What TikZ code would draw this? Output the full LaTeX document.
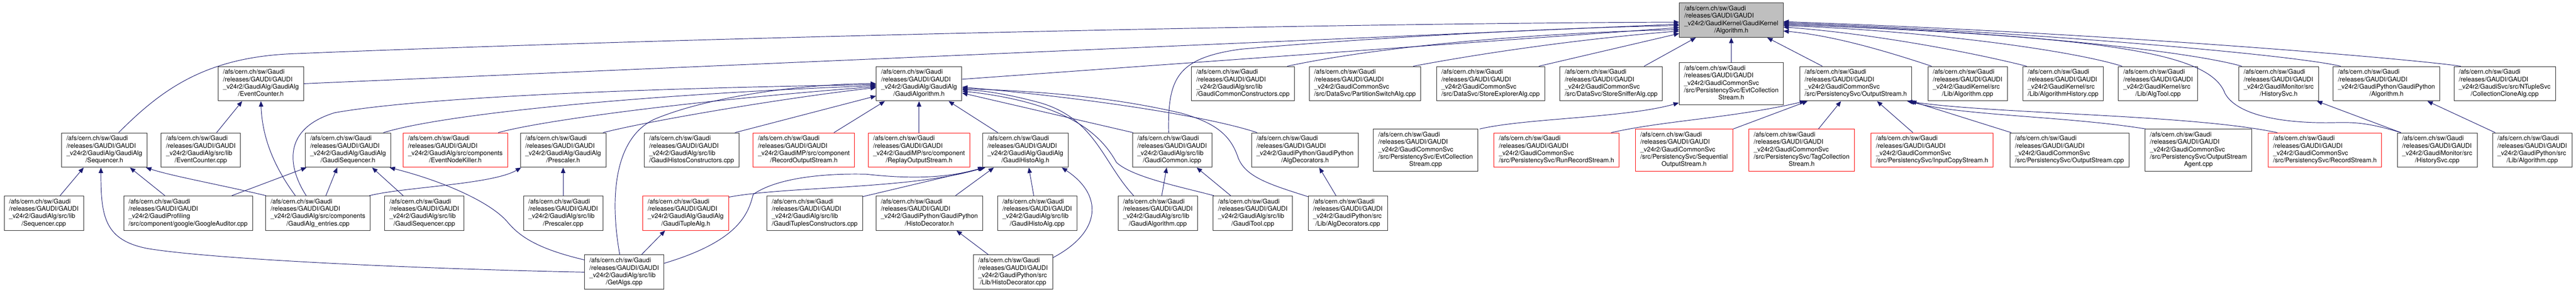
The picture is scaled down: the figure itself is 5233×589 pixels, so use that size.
\documentclass[tikz,border=0pt]{standalone}
\usepackage{fontspec}
\setmainfont{TeX Gyre Heros}
\usetikzlibrary{arrows.meta,calc}

\definecolor{edgeblue}{HTML}{191970}
\definecolor{rootgray}{HTML}{BFBFBF}

% doxygen style label: left aligned lines, last line centred
\newcommand{\gpath}[2]{\begin{tabular}{@{}l@{}}/afs/cern.ch/sw/Gaudi\\/releases/GAUDI/GAUDI\\\_v24r2/#1\\\multicolumn{1}{@{}c@{}}{#2}\end{tabular}}

\tikzset{
  file/.style={draw=black!85, line width=1pt, inner xsep=10pt, inner ysep=5pt,
    font=\fontsize{13}{15}\selectfont},
  trunc/.style={file, draw=red},
  focus/.style={file, fill=rootgray},
  inc/.style={draw=edgeblue, line width=1pt, -{Triangle[length=11pt,width=9pt]}}
}

\begin{document}
\begin{tikzpicture}[x=1pt,y=-1pt]
\useasboundingbox (0,0) rectangle (5233,589);

\node[focus] (root) at (3517,41) {\gpath{GaudiKernel/GaudiKernel}{/Algorithm.h}};

% first level
\node[file] (evch) at (530,170) {\gpath{GaudiAlg/GaudiAlg}{/EventCounter.h}};
\node[file] (galgh) at (1867,170) {\gpath{GaudiAlg/GaudiAlg}{/GaudiAlgorithm.h}};
\node[file] (gccons) at (2525,170) {\gpath{GaudiAlg/src/lib}{/GaudiCommonConstructors.cpp}};
\node[file] (partsw) at (2773,170) {\gpath{GaudiCommonSvc}{/src/DataSvc/PartitionSwitchAlg.cpp}};
\node[file] (storeexp) at (3028,170) {\gpath{GaudiCommonSvc}{/src/DataSvc/StoreExplorerAlg.cpp}};
\node[file] (storesniff) at (3273,170) {\gpath{GaudiCommonSvc}{/src/DataSvc/StoreSnifferAlg.cpp}};
\node[file] (evtcolh) at (3517,170) {\gpath{GaudiCommonSvc\\/src/PersistencySvc/EvtCollection}{Stream.h}};
\node[file] (osh) at (3770,170) {\gpath{GaudiCommonSvc}{/src/PersistencySvc/OutputStream.h}};
\node[file] (kalgcpp) at (3997,170) {\gpath{GaudiKernel/src}{/Lib/Algorithm.cpp}};
\node[file] (alghist) at (4191,170) {\gpath{GaudiKernel/src}{/Lib/AlgorithmHistory.cpp}};
\node[file] (algtool) at (4384,170) {\gpath{GaudiKernel/src}{/Lib/AlgTool.cpp}};
\node[file] (histsvch) at (4629,170) {\gpath{GaudiMonitor/src}{/HistorySvc.h}};
\node[file] (pyalgh) at (4848,170) {\gpath{GaudiPython/GaudiPython}{/Algorithm.h}};
\node[file] (collclone) at (5088,170) {\gpath{GaudiSvc/src/NTupleSvc}{/CollectionCloneAlg.cpp}};

% second level
\node[file] (seqh) at (212,305) {\gpath{GaudiAlg/GaudiAlg}{/Sequencer.h}};
\node[file] (evccpp) at (408,305) {\gpath{GaudiAlg/src/lib}{/EventCounter.cpp}};
\node[file] (gseqh) at (707,305) {\gpath{GaudiAlg/GaudiAlg}{/GaudiSequencer.h}};
\node[trunc] (enk) at (925,305) {\gpath{GaudiAlg/src/components}{/EventNodeKiller.h}};
\node[file] (presch) at (1144,305) {\gpath{GaudiAlg/GaudiAlg}{/Prescaler.h}};
\node[file] (ghcons) at (1405,305) {\gpath{GaudiAlg/src/lib}{/GaudiHistosConstructors.cpp}};
\node[trunc] (recout) at (1633,305) {\gpath{GaudiMP/src/component}{/RecordOutputStream.h}};
\node[trunc] (replay) at (1867,305) {\gpath{GaudiMP/src/component}{/ReplayOutputStream.h}};
\node[file] (ghalgh) at (2083,305) {\gpath{GaudiAlg/GaudiAlg}{/GaudiHistoAlg.h}};
\node[file] (gcicpp) at (2381,305) {\gpath{GaudiAlg/src/lib}{/GaudiCommon.icpp}};
\node[file] (algdech) at (2651,305) {\gpath{GaudiPython/GaudiPython}{/AlgDecorators.h}};
\node[file] (evtcolcpp) at (2896,305) {\gpath{GaudiCommonSvc\\/src/PersistencySvc/EvtCollection}{Stream.cpp}};
\node[trunc] (runrec) at (3162,305) {\gpath{GaudiCommonSvc}{/src/PersistencySvc/RunRecordStream.h}};
\node[trunc] (seqout) at (3421,305) {\gpath{GaudiCommonSvc\\/src/PersistencySvc/Sequential}{OutputStream.h}};
\node[trunc] (tagcol) at (3660,305) {\gpath{GaudiCommonSvc\\/src/PersistencySvc/TagCollection}{Stream.h}};
\node[trunc] (inputcopy) at (3925,305) {\gpath{GaudiCommonSvc}{/src/PersistencySvc/InputCopyStream.h}};
\node[file] (oscpp) at (4204,305) {\gpath{GaudiCommonSvc}{/src/PersistencySvc/OutputStream.cpp}};
\node[file] (osagent) at (4466,305) {\gpath{GaudiCommonSvc\\/src/PersistencySvc/OutputStream}{Agent.cpp}};
\node[trunc] (recstream) at (4723,305) {\gpath{GaudiCommonSvc}{/src/PersistencySvc/RecordStream.h}};
\node[file] (histsvccpp) at (4951,305) {\gpath{GaudiMonitor/src}{/HistorySvc.cpp}};
\node[file] (pyalgcpp) at (5144,305) {\gpath{GaudiPython/src}{/Lib/Algorithm.cpp}};

% third level
\node[file] (seqcpp) at (89,433) {\gpath{GaudiAlg/src/lib}{/Sequencer.cpp}};
\node[file] (google) at (382,433) {\gpath{GaudiProfiling}{/src/component/google/GoogleAuditor.cpp}};
\node[file] (entries) at (646,433) {\gpath{GaudiAlg/src/components}{/GaudiAlg\_entries.cpp}};
\node[file] (gseqcpp) at (862,433) {\gpath{GaudiAlg/src/lib}{/GaudiSequencer.cpp}};
\node[file] (prescpp) at (1144,433) {\gpath{GaudiAlg/src/lib}{/Prescaler.cpp}};
\node[trunc] (gtuph) at (1393,433) {\gpath{GaudiAlg/GaudiAlg}{/GaudiTupleAlg.h}};
\node[file] (gtupcons) at (1655,433) {\gpath{GaudiAlg/src/lib}{/GaudiTuplesConstructors.cpp}};
\node[file] (histodech) at (1888,433) {\gpath{GaudiPython/GaudiPython}{/HistoDecorator.h}};
\node[file] (ghalgcpp) at (2107,433) {\gpath{GaudiAlg/src/lib}{/GaudiHistoAlg.cpp}};
\node[file] (galgcpp) at (2352,433) {\gpath{GaudiAlg/src/lib}{/GaudiAlgorithm.cpp}};
\node[file] (gtool) at (2545,433) {\gpath{GaudiAlg/src/lib}{/GaudiTool.cpp}};
\node[file] (algdeccpp) at (2738,433) {\gpath{GaudiPython/src}{/Lib/AlgDecorators.cpp}};

% fourth level
\node[file] (getalgs) at (1268,553) {\gpath{GaudiAlg/src/lib}{/GetAlgs.cpp}};
\node[file] (histodeccpp) at (2058,553) {\gpath{GaudiPython/src}{/Lib/HistoDecorator.cpp}};

% into Algorithm.h
\draw[inc] ($(seqh.north)+(29,0)$) .. controls (330,180) and (420,115) .. (600,109) .. controls (1300,80) and (2600,48) .. ($(root.west)+(0,4)$);
\draw[inc] (evch.east) -- ($(root.west)+(0,8)$);
\draw[inc] ($(galgh.east)+(0,-9)$) -- ($(root.west)+(0,15)$);
\draw[inc] ($(gcicpp.north)+(-7,0)$) .. controls (2372,160) and (2390,118) .. (2520,100) .. controls (2800,75) and (3200,55) .. ($(root.west)+(0,11)$);
\draw[inc] ($(gccons.north)+(90,0)$) .. controls (2800,95) and (3100,68) .. ($(root.west)+(0,19)$);
\draw[inc] ($(partsw.north)+(98,0)$) .. controls (3000,110) and (3200,80) .. ($(root.west)+(0,22)$);
\draw[inc] ($(storeexp.north)+(98,0)$) -- ($(root.west)+(0,27)$);
\draw[inc] ($(storesniff.north)+(67,0)$) -- ($(root.south)+(-72,0)$);
\draw[inc] (evtcolh) -- (root);
\draw[inc] ($(osh.north)+(-68,0)$) -- ($(root.south)+(73,0)$);
\draw[inc] ($(kalgcpp.north)+(-73,0)$) .. controls (3820,100) and (3720,72) .. ($(root.east)+(0,22)$);
\draw[inc] ($(alghist.north)+(-74,0)$) .. controls (4000,105) and (3800,68) .. ($(root.east)+(0,14)$);
\draw[inc] ($(algtool.north)+(-73,0)$) .. controls (4200,100) and (3900,62) .. ($(root.east)+(0,11)$);
\draw[inc] ($(histsvccpp.north west)+(8,0)$) .. controls (4820,252) and (4790,248) .. (4748,249) .. controls (4640,252) and (4545,235) .. (4520,190) .. controls (4490,110) and (4300,75) .. ($(root.east)+(0,9)$);
\draw[inc] ($(histsvch.north)+(-75,0)$) .. controls (4450,105) and (4100,65) .. ($(root.east)+(0,7)$);
\draw[inc] ($(pyalgh.north)+(-93,0)$) .. controls (4650,110) and (4100,63) .. ($(root.east)+(0,5)$);
\draw[inc] ($(collclone.north)+(-89,0)$) .. controls (4900,120) and (4300,68) .. ($(root.east)+(0,3)$);

% EvtCollectionStream.h, OutputStream.h, HistorySvc.h, Algorithm.h (python)
\draw[inc] ($(evtcolcpp.north)+(110,0)$) .. controls (3100,240) and (3300,240) .. ($(evtcolh.south west)+(0,-4)$);
\draw[inc] ($(runrec.north)+(111,0)$) .. controls (3380,245) and (3520,240) .. ($(osh.south)+(-103,0)$);
\draw[inc] ($(seqout.north)+(100,0)$) -- ($(osh.south)+(-98,0)$);
\draw[inc] ($(tagcol.north)+(34,0)$) -- ($(osh.south)+(-30,0)$);
\draw[inc] ($(inputcopy.north)+(-39,0)$) -- ($(osh.south)+(43,0)$);
\draw[inc] ($(oscpp.north west)+(3,0)$) -- ($(osh.south)+(112,0)$);
\draw[inc] ($(osagent.north west)+(2,0)$) .. controls (4200,236) and (3980,235) .. ($(osh.south)+(108,0)$);
\draw[inc] ($(recstream.north west)+(19,0)$) .. controls (4450,232) and (4050,232) .. ($(osh.south)+(104,0)$);
\draw[inc] ($(histsvccpp.north west)+(8,0)$) -- ($(histsvch.south east)+(-4,0)$);
\draw[inc] ($(pyalgcpp.north)+(-75,0)$) -- ($(pyalgh.south)+(83,0)$);

% EventCounter.h, Sequencer.h
\draw[inc] ($(evccpp.north)+(32,0)$) -- ($(evch.south)+(-38,0)$);
\draw[inc] ($(entries.north)+(-46,0)$) .. controls (565,350) and (533,290) .. (evch.south);
\draw[inc] ($(seqcpp.north)+(33,0)$) -- ($(seqh.south)+(-42,0)$);
\draw[inc] (getalgs.west) .. controls (800,545) and (420,525) .. (300,505) .. controls (212,488) and (205,440) .. ($(seqh.south)+(-7,0)$);
\draw[inc] ($(google.north)+(-47,0)$) -- ($(seqh.south)+(52,0)$);
\draw[inc] ($(entries.north west)+(1,0)$) .. controls (450,376) and (350,358) .. ($(seqh.south east)+(-3,0)$);

% GaudiSequencer.h, Prescaler.h
\draw[inc] ($(google.north)+(89,0)$) -- ($(gseqh.south west)+(3,0)$);
\draw[inc] ($(entries.north)+(16,0)$) -- ($(gseqh.south)+(-22,0)$);
\draw[inc] ($(gseqcpp.north)+(-43,0)$) -- ($(gseqh.south)+(49,0)$);
\draw[inc] ($(getalgs.west)+(0,-25)$) .. controls (1090,505) and (1055,480) .. (1030,450) .. controls (995,410) and (900,368) .. ($(gseqh.south east)+(-3,0)$);
\draw[inc] (prescpp) -- (presch);
\draw[inc] ($(entries.north east)+(-2,0)$) .. controls (820,380) and (1000,375) .. ($(presch.south west)+(2,0)$);

% GaudiAlgorithm.h
\draw[inc] ($(entries.north)+(-24,0)$) .. controls (585,340) and (572,262) .. (680,229) .. controls (900,190) and (1500,176) .. ($(galgh.west)+(0,2)$);
\draw[inc] ($(gseqh.north)+(72,0)$) .. controls (900,232) and (1300,192) .. ($(galgh.west)+(0,4)$);
\draw[inc] ($(enk.north)+(87,0)$) .. controls (1100,245) and (1400,205) .. ($(galgh.west)+(0,6)$);
\draw[inc] ($(presch.north)+(81,0)$) .. controls (1320,245) and (1600,198) .. ($(galgh.west)+(0,8)$);
\draw[inc] ($(getalgs.north)+(-9,0)$) .. controls (1238,400) and (1248,280) .. (1330,242) .. controls (1450,192) and (1650,170) .. (galgh.west);
\draw[inc] ($(ghcons.north)+(88,0)$) -- ($(galgh.west)+(0,25)$);
\draw[inc] ($(recout.north)+(61,0)$) -- ($(galgh.south west)+(18,0)$);
\draw[inc] (replay) -- (galgh);
\draw[inc] ($(ghalgh.north)+(-56,0)$) -- ($(galgh.south)+(60,0)$);
\draw[inc] ($(gcicpp.north west)+(2,0)$) -- ($(galgh.east)+(0,19)$);
\draw[inc] ($(galgcpp.north west)+(32,0)$) .. controls (2240,330) and (2225,240) .. (2110,208) .. controls (2050,192) and (2000,184) .. ($(galgh.east)+(0,12)$);
\draw[inc] ($(gtool.north west)+(2,0)$) .. controls (2400,380) and (2300,360) .. (2268,330) .. controls (2240,280) and (2180,210) .. ($(galgh.east)+(0,15)$);
\draw[inc] ($(algdech.north west)+(12,0)$) .. controls (2450,235) and (2200,198) .. ($(galgh.east)+(0,7)$);
\draw[inc] ($(algdeccpp.north west)+(0,2)$) .. controls (2580,375) and (2530,360) .. (2515,320) .. controls (2500,275) and (2470,250) .. (2400,230) .. controls (2250,195) and (2100,185) .. ($(galgh.east)+(0,10)$);

% GaudiCommon.icpp, AlgDecorators.h
\draw[inc] ($(galgcpp.north)+(8,0)$) -- ($(gcicpp.south)+(-11,0)$);
\draw[inc] ($(gtool.north)+(-45,0)$) -- ($(gcicpp.south)+(50,0)$);
\draw[inc] ($(algdeccpp.north)+(-24,0)$) -- ($(algdech.south)+(29,0)$);

% GaudiHistoAlg.h, HistoDecorator.h, GaudiTupleAlg.h
\draw[inc] ($(getalgs.east)+(0,-18)$) .. controls (1500,490) and (1520,435) .. (1530,395) .. controls (1580,360) and (1680,352) .. (1760,354) .. controls (1860,365) and (1930,360) .. ($(ghalgh.south west)+(2,0)$);
\draw[inc] ($(gtuph.north east)+(0,3)$) .. controls (1600,378) and (1850,385) .. ($(ghalgh.south west)+(4,0)$);
\draw[inc] ($(gtupcons.north east)+(0,2)$) -- ($(ghalgh.south west)+(6,0)$);
\draw[inc] ($(histodech.north)+(53,0)$) -- ($(ghalgh.south)+(-64,0)$);
\draw[inc] ($(ghalgcpp.north)+(-7,0)$) -- ($(ghalgh.south)+(7,0)$);
\draw[inc] ($(histodeccpp.north east)+(0,6)$) .. controls (2240,470) and (2240,395) .. ($(ghalgh.south)+(74,0)$);
\draw[inc] ($(histodeccpp.north)+(-50,0)$) -- ($(histodech.south)+(55,0)$);
\draw[inc] ($(getalgs.north)+(35,0)$) -- ($(gtuph.south)+(-42,0)$);
\end{tikzpicture}
\end{document}
